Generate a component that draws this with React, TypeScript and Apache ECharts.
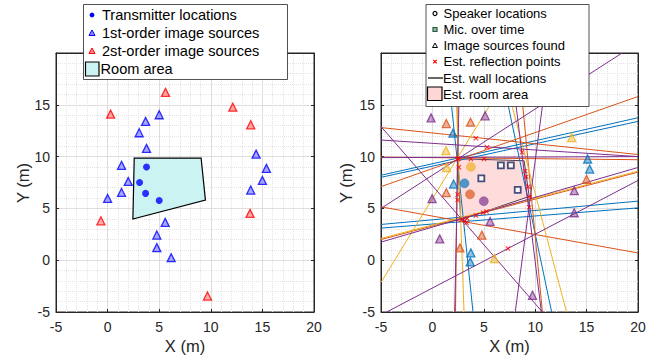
import React, { useEffect, useRef } from 'react';
import * as echarts from 'echarts';

// ---------- axis / ticks ----------
const AXIS_MIN = -5;
const AXIS_MAX = 20;
const TICK_STEP = 5;

// ---------- left plot data ----------
const roomTruth = [[2.58, 9.86], [9.06, 9.86], [9.48, 5.8], [2.45, 3.97]];
const transmitters = [[3.77, 8.99], [3.1, 7.5], [3.68, 6.45], [5.0, 5.77]];
const firstOrder = [
  [5.0, 14.04], [3.68, 13.4], [3.06, 12.3], [3.77, 10.79], [1.35, 9.15], [2.0, 7.6],
  [1.35, 6.54], [0.0, 5.96], [14.39, 10.24], [15.39, 8.86], [15.0, 7.7], [13.87, 6.77],
  [5.58, 3.65], [4.77, 2.43], [4.77, 1.21], [6.16, 0.24],
];
const secondOrder = [
  [5.61, 16.2], [0.29, 14.1], [12.13, 14.77], [13.87, 13.07], [-0.65, 3.8], [13.8, 4.52], [9.68, -3.46],
];

// ---------- right plot data ----------
const roomEst = [[2.46, 9.8], [8.92, 9.6], [9.42, 6.15], [2.75, 3.9]];
const speakers = [[3.75, 9.0], [3.12, 7.42], [3.66, 6.36], [5.0, 5.7]];
const speakerColorIdx = [2, 0, 1, 3];
const mics = [[6.66, 9.16], [7.63, 9.16], [4.76, 7.9], [8.3, 6.78]];
const imgBlue = [[2.0, 12.26], [2.06, 7.35], [3.74, 0.71], [3.68, -0.16], [15.1, 9.77], [15.3, 8.8]];
const imgOrange = [[1.35, 13.19], [3.71, 13.32], [1.35, 6.52], [4.81, 2.42], [2.68, 1.19], [15.0, 7.81]];
const imgYellow = [[1.32, 10.58], [1.39, 8.94], [13.55, 11.84], [6.03, 0.16]];
const imgPurple = [[-0.13, 13.74], [5.13, 13.94], [-0.03, 5.94], [0.71, 2.06], [13.8, 6.71], [13.8, 4.58], [5.61, 3.74], [9.74, -3.39]];
const reflections = [
  [4.23, 11.77], [5.32, 10.9], [8.71, 10.42], [2.45, 9.77], [2.55, 9.85], [3.74, 9.77], [5.03, 9.77],
  [2.58, 8.97], [9.03, 8.61], [9.13, 8.06], [9.32, 7.1], [9.42, 6.13], [9.42, 5.1], [2.45, 6.35],
  [2.45, 5.8], [4.23, 4.32], [4.94, 4.58], [5.26, 4.71], [2.84, 3.87], [3.16, 3.81], [3.32, 3.61],
  [3.39, 4.03], [7.35, 1.13],
];
// wall lines: [x1, y1, x2, y2]
const wallsBlue = [
  [-5, 8.2, 20, 13.75], [-5, 8.0, 20, 13.4], [-5, 3.45, 20, 5.7], [-5, 3.1, 20, 5.05],
  [1.33, 20, 3.95, -5], [6.3, 20, 11.6, -5],
];
const wallsOrange = [
  [-5, 12.8, 20, 10.2], [-5, 7.1, 20, 15.8], [-5, 2.0, 20, 8.5], [-5, 5.15, 20, 0.7],
  [-5, 9.95, 20, 9.7], [2.55, 20, 2.25, -5], [8.3, 20, 10.7, -5],
];
const wallsYellow = [
  [-4.97, -2.1, 8.7, 20], [-5, 2.1, 20, 8.6], [2.16, 20, 3.08, -5], [6.38, 20, 13.05, -5],
];
const wallsPurple = [
  [-5, 11.6, 20, 10.0], [-5, 12.9, 10.7, -5], [-5, 1.75, 20, 8.95], [-4.45, -5, 20, 7.7],
  [-5, 5.0, 18.45, 20], [-5, 9.9, 20, 10.0], [2.68, 20, 2.17, -5], [7.51, 20, 10.6, -5],
  [8.06, -5, 11.38, 20],
];

const C_BLUE = '#0072BD';
const C_ORANGE = '#D95319';
const C_YELLOW = '#EDB120';
const C_PURPLE = '#7E2F8E';
const PALETTE = [C_BLUE, C_ORANGE, C_YELLOW, C_PURPLE];
const FONT = 'Liberation Sans, Arial, Helvetica, sans-serif';
const INK = '#262626';

function hexA(hex: string, a: number) {
  const n = parseInt(hex.slice(1), 16);
  return `rgba(${(n >> 16) & 255},${(n >> 8) & 255},${n & 255},${a})`;
}

function makeAxes(dim: 'x' | 'y', gridIndex: number) {
  const common = {
    type: 'value',
    gridIndex,
    min: AXIS_MIN,
    max: AXIS_MAX,
    interval: TICK_STEP,
  };
  const main: any = {
    ...common,
    position: dim === 'x' ? 'bottom' : 'left',
    axisLine: { show: true, onZero: false, lineStyle: { color: INK, width: 1 } },
    axisTick: { show: true, inside: true, length: 3, lineStyle: { color: INK } },
    axisLabel: {
      show: true,
      fontSize: 14,
      color: INK,
      fontFamily: FONT,
      margin: dim === 'x' ? 8 : 6,
      formatter: (v: number) => (dim === 'y' && v === AXIS_MAX ? '' : String(v)),
    },
    splitLine: { show: true, lineStyle: { color: '#dedede', width: 1 } },
    minorTick: { show: false, splitNumber: 5 },
    minorSplitLine: { show: true, lineStyle: { color: '#e4e4e4', width: 1, type: 'dotted' } },
  };
  const opp: any = {
    ...common,
    position: dim === 'x' ? 'top' : 'right',
    axisLine: { show: true, onZero: false, lineStyle: { color: INK, width: 1 } },
    axisTick: { show: true, inside: true, length: 3, lineStyle: { color: INK } },
    axisLabel: { show: false },
    splitLine: { show: false },
  };
  return [main, opp];
}

function buildOption() {
  const xAxis = [...makeAxes('x', 0), ...makeAxes('x', 1)];
  const yAxis = [...makeAxes('y', 0), ...makeAxes('y', 1)];

  const series: any[] = [];

  // left plot
  series.push({
    type: 'custom',
    xAxisIndex: 0,
    yAxisIndex: 0,
    data: [0],
    silent: true,
    z: 1,
    renderItem: (_p: any, api: any) => ({
      type: 'polygon',
      shape: { points: roomTruth.map((p) => api.coord(p)) },
      style: { fill: '#caf3f2', stroke: '#000', lineWidth: 1.2 },
    }),
  });
  series.push({
    type: 'scatter', xAxisIndex: 0, yAxisIndex: 0, data: firstOrder, symbol: 'triangle', symbolSize: 8, z: 3,
    itemStyle: { color: 'rgba(60,60,255,0.55)', borderColor: '#0000ff', borderWidth: 1.3 },
  });
  series.push({
    type: 'scatter', xAxisIndex: 0, yAxisIndex: 0, data: secondOrder, symbol: 'triangle', symbolSize: 8, z: 3,
    itemStyle: { color: 'rgba(255,60,60,0.55)', borderColor: '#ff0000', borderWidth: 1.3 },
  });
  series.push({
    type: 'scatter', xAxisIndex: 0, yAxisIndex: 0, data: transmitters, symbol: 'circle', symbolSize: 7, z: 4,
    itemStyle: { color: '#0000ff' },
  });

  // right plot
  series.push({
    type: 'custom',
    xAxisIndex: 2,
    yAxisIndex: 2,
    data: [0],
    silent: true,
    z: 1,
    renderItem: (_p: any, api: any) => ({
      type: 'polygon',
      shape: { points: roomEst.map((p) => api.coord(p)) },
      style: { fill: '#ffdcdc', stroke: '#5a3a50', lineWidth: 1 },
    }),
  });
  const wallSets = [wallsBlue, wallsOrange, wallsYellow, wallsPurple];
  wallSets.forEach((set, ci) => {
    set.forEach((w) => {
      series.push({
        type: 'line',
        xAxisIndex: 2,
        yAxisIndex: 2,
        data: [[w[0], w[1]], [w[2], w[3]]],
        symbol: 'none',
        clip: true,
        z: 2,
        lineStyle: { color: PALETTE[ci], width: 1 },
        silent: true,
      });
    });
  });
  const imgSets = [imgBlue, imgOrange, imgYellow, imgPurple];
  imgSets.forEach((set, ci) => {
    series.push({
      type: 'scatter', xAxisIndex: 2, yAxisIndex: 2, data: set, symbol: 'triangle', symbolSize: 8, z: 3,
      itemStyle: { color: hexA(PALETTE[ci], 0.55), borderColor: PALETTE[ci], borderWidth: 1.3 },
    });
  });
  speakers.forEach((s, i) => {
    series.push({
      type: 'scatter', xAxisIndex: 2, yAxisIndex: 2, data: [s], symbol: 'circle', symbolSize: 9, z: 4,
      itemStyle: { color: hexA(PALETTE[speakerColorIdx[i]], 0.85), borderColor: PALETTE[speakerColorIdx[i]], borderWidth: 0.5 },
    });
  });
  series.push({
    type: 'scatter', xAxisIndex: 2, yAxisIndex: 2, data: mics, symbol: 'rect', symbolSize: 6, z: 4,
    itemStyle: { color: '#ffffff', borderColor: '#15285e', borderWidth: 1.8 },
  });
  series.push({
    type: 'scatter', xAxisIndex: 2, yAxisIndex: 2, data: reflections,
    symbol: 'path://M0,1.5L1.5,0L5,3.5L8.5,0L10,1.5L6.5,5L10,8.5L8.5,10L5,6.5L1.5,10L0,8.5L3.5,5Z',
    symbolSize: 5, z: 5,
    itemStyle: { color: '#ff0000' },
  });

  // legends & titles
  const txt = (x: number, y: number, text: string, size: number, extra: any = {}) => ({
    type: 'text', x, y, z: 101,
    style: { text, fontSize: size, fontFamily: FONT, fill: '#000', verticalAlign: 'middle', align: 'left', ...extra },
  });
  const tri = (cx: number, cy: number, s: number, fill: string, stroke: string) => ({
    type: 'polygon', z: 101,
    shape: { points: [[cx, cy - s * 0.55], [cx + s * 0.55, cy + s * 0.45], [cx - s * 0.55, cy + s * 0.45]] },
    style: { fill, stroke, lineWidth: 1 },
  });
  const L1 = [15, 33, 51, 69];
  const L2 = [13.5, 29.5, 45.5, 61.8, 78, 94];
  const graphic: any[] = [
    // left legend
    { type: 'rect', z: 100, shape: { x: 83.5, y: 4.5, width: 204, height: 75 }, style: { fill: '#fff', stroke: INK, lineWidth: 0.8 } },
    { type: 'circle', z: 101, shape: { cx: 92, cy: L1[0], r: 2.4 }, style: { fill: '#0000ff' } },
    tri(92, L1[1], 5.5, 'rgba(60,60,255,0.6)', '#0000ff'),
    tri(92, L1[2], 5.5, 'rgba(255,60,60,0.6)', '#ff0000'),
    { type: 'rect', z: 101, shape: { x: 85.5, y: 62, width: 13.5, height: 14 }, style: { fill: '#caf3f2', stroke: '#000', lineWidth: 1.2 } },
    txt(102, L1[0], 'Transmitter locations', 14.6),
    txt(102, L1[1], '1st-order image sources', 14.6),
    txt(102, L1[2], '2st-order image sources', 14.6),
    txt(100.5, L1[3], 'Room area', 14.6),
    // right legend
    { type: 'rect', z: 100, shape: { x: 426, y: 4.5, width: 163, height: 102 }, style: { fill: '#fff', stroke: INK, lineWidth: 0.8 } },
    { type: 'circle', z: 101, shape: { cx: 435, cy: L2[0], r: 2 }, style: { fill: '#fff', stroke: '#000', lineWidth: 1.2 } },
    { type: 'rect', z: 101, shape: { x: 433, y: L2[1] - 2, width: 4, height: 4 }, style: { fill: '#8fb8a0', stroke: '#2a5a40', lineWidth: 1.2 } },
    tri(435, L2[2], 4.5, '#fff', '#000'),
    { type: 'polygon', z: 101, shape: { points: [[432.8, L2[3] - 1.6], [433.6, L2[3] - 2.4], [435, L2[3] - 1], [436.4, L2[3] - 2.4], [437.2, L2[3] - 1.6], [435.8, L2[3] - 0.2], [437.2, L2[3] + 1.2], [436.4, L2[3] + 2], [435, L2[3] + 0.6], [433.6, L2[3] + 2], [432.8, L2[3] + 1.2], [434.2, L2[3] - 0.2]] }, style: { fill: '#ff0000' } },
    { type: 'line', z: 101, shape: { x1: 428, y1: L2[4], x2: 443, y2: L2[4] }, style: { stroke: '#000', lineWidth: 1.2 } },
    { type: 'rect', z: 101, shape: { x: 427.5, y: 87, width: 14.5, height: 13.5 }, style: { fill: '#ffd6d6', stroke: '#000', lineWidth: 1.2 } },
    txt(443.5, L2[0], 'Speaker locations', 13),
    txt(443.5, L2[1], 'Mic. over time', 13),
    txt(443.5, L2[2], 'Image sources found', 13),
    txt(443.5, L2[3], 'Est. reflection points', 13),
    txt(443, L2[4], 'Est. wall locations', 13),
    txt(443, L2[5], 'Est. room area', 13),
    // axis titles
    txt(185, 346, 'X (m)', 16.5, { align: 'center', fill: INK }),
    txt(509.5, 346, 'X (m)', 16.5, { align: 'center', fill: INK }),
    { type: 'text', x: 23, y: 183, rotation: Math.PI / 2, z: 101, style: { text: 'Y (m)', fontSize: 16.5, fontFamily: FONT, fill: INK, align: 'center', verticalAlign: 'middle' } },
    { type: 'text', x: 346, y: 183, rotation: Math.PI / 2, z: 101, style: { text: 'Y (m)', fontSize: 16.5, fontFamily: FONT, fill: INK, align: 'center', verticalAlign: 'middle' } },
  ];

  return {
    animation: false,
    backgroundColor: '#ffffff',
    grid: [
      { left: 56, top: 53, width: 258, height: 259, show: true, borderColor: INK, borderWidth: 1, backgroundColor: '#fff' },
      { left: 381, top: 53, width: 257, height: 259, show: true, borderColor: INK, borderWidth: 1, backgroundColor: '#fff' },
    ],
    xAxis,
    yAxis,
    series,
    graphic,
  };
}

export default function App() {
  const ref = useRef<HTMLDivElement>(null);
  useEffect(() => {
    if (!ref.current) return;
    const chart = echarts.init(ref.current, undefined, { renderer: 'svg' });
    chart.setOption(buildOption() as any);
    return () => chart.dispose();
  }, []);
  return (
    <div
      ref={ref}
      style={{ position: 'fixed', left: 0, top: 0, width: 660, height: 358, background: '#fff' }}
    />
  );
}
